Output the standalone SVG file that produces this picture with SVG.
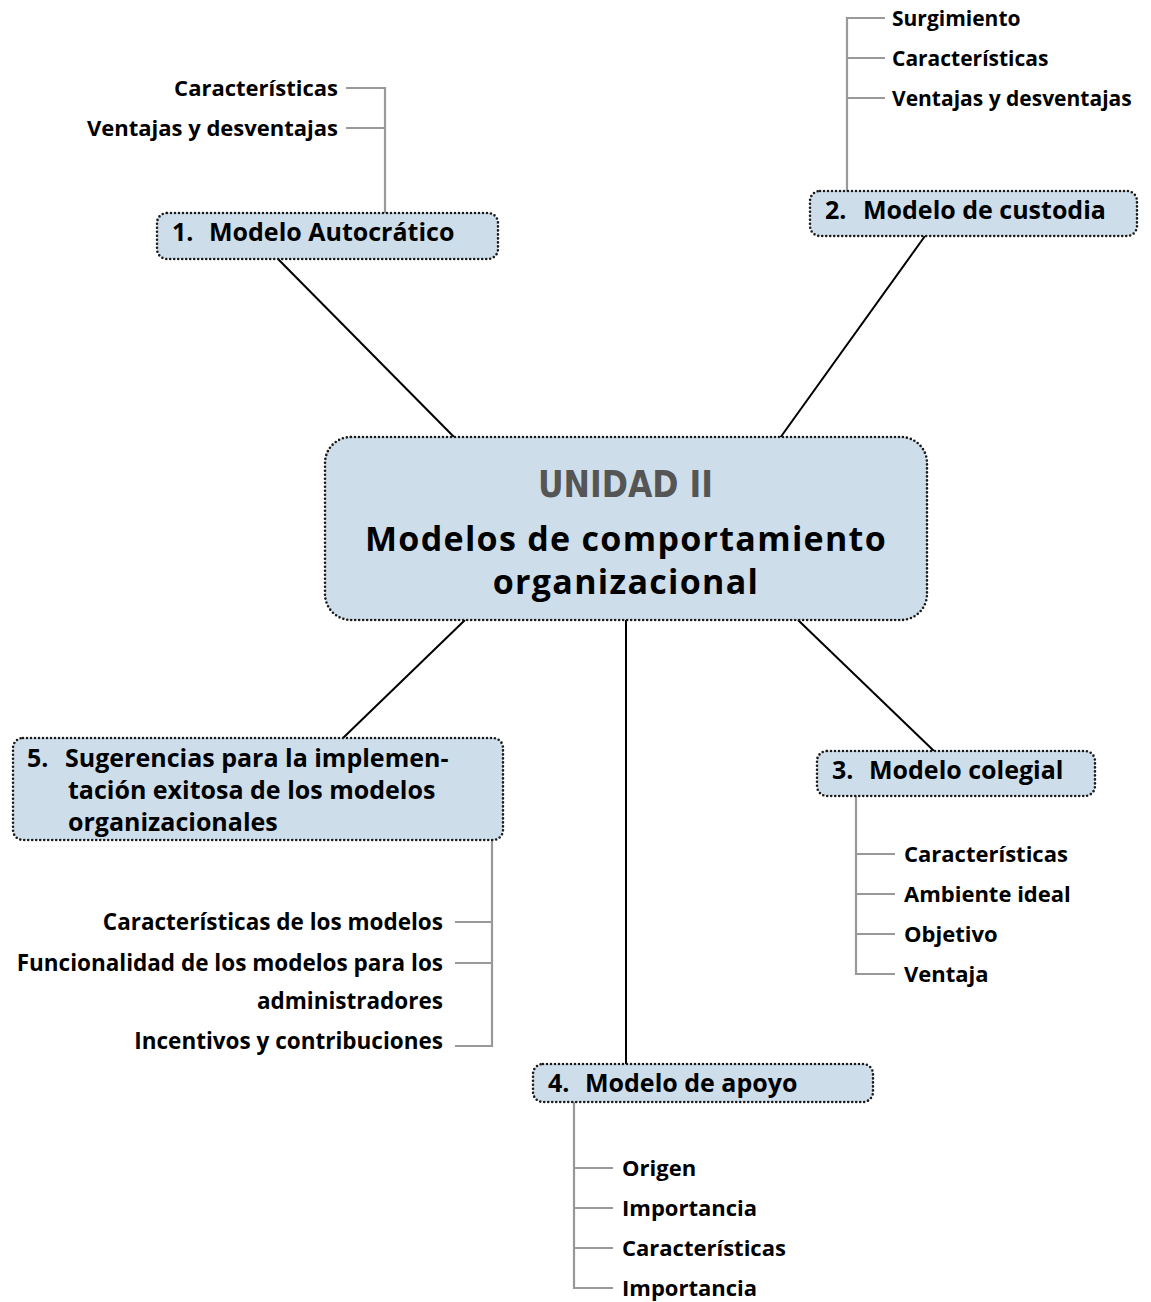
<svg xmlns="http://www.w3.org/2000/svg" width="1151" height="1302" viewBox="0 0 1151 1302">
<style>
.box{fill:#cddeea;stroke:#1a1a1a;stroke-width:2.6;stroke-dasharray:0 4;stroke-linecap:round}
.nt{font-family:"Open Sans",Lato,"Liberation Sans",sans-serif;font-weight:bold;font-size:25px;fill:#000}
.lt{font-family:"Open Sans",Lato,"Liberation Sans",sans-serif;font-weight:bold;font-size:22px;fill:#000}
.s21{font-size:21px}
.s225{font-size:22.5px}
.r{text-anchor:end}
.conn{stroke:#000;stroke-width:2;fill:none}
.tree{stroke:#999;stroke-width:2.2;fill:none}
</style>
<rect width="1151" height="1302" fill="#fff"/>
<g id="connectors">
<line class="conn" x1="278" y1="259" x2="455" y2="438"/>
<line class="conn" x1="925" y1="236" x2="780" y2="438"/>
<line class="conn" x1="465" y1="620" x2="343" y2="738"/>
<line class="conn" x1="626" y1="620" x2="626" y2="1064"/>
<line class="conn" x1="798" y1="620" x2="934" y2="751"/>
<path class="tree" d="M385 213V88H346M385 128H346"/>
<path class="tree" d="M847 191V18H885M847 58H885M847 98H885"/>
<path class="tree" d="M856 796V974H895M856 854H895M856 894H895M856 934H895"/>
<path class="tree" d="M574 1102V1288H613M574 1168H613M574 1208H613M574 1248H613"/>
<path class="tree" d="M492 840V1046H455M492 922H455M492 963H455"/>
</g>
<g id="center">
<rect class="box" x="325" y="437" width="602" height="183" rx="26"/>
<text x="538" y="497" textLength="175" lengthAdjust="spacingAndGlyphs" font-family="'DejaVu Sans Condensed','DejaVu Sans',sans-serif" font-weight="bold" font-size="38" fill="#555">UNIDAD II</text>
<text x="626" y="551" text-anchor="middle" font-family="'Open Sans',Lato,sans-serif" font-weight="bold" font-size="34" letter-spacing="1.3">Modelos de comportamiento</text>
<text x="626" y="594" text-anchor="middle" font-family="'Open Sans',Lato,sans-serif" font-weight="bold" font-size="34" letter-spacing="1.3">organizacional</text>
</g>
<g id="n1">
<rect class="box" x="157" y="213" width="341" height="46" rx="10"/>
<text class="nt" y="241"><tspan x="172">1.</tspan><tspan x="209">Modelo Autocrático</tspan></text>
</g>
<g id="n1-leaves">
<text class="lt r" x="338" y="96">Características</text>
<text class="lt r" x="338" y="136">Ventajas y desventajas</text>
</g>
<g id="n2">
<rect class="box" x="810" y="191" width="327" height="45" rx="10"/>
<text class="nt" y="219"><tspan x="825">2.</tspan><tspan x="863">Modelo de custodia</tspan></text>
</g>
<g id="n2-leaves">
<text class="lt s21" x="892" y="26">Surgimiento</text>
<text class="lt s21" x="892" y="66">Características</text>
<text class="lt s21" x="892" y="106">Ventajas y desventajas</text>
</g>
<g id="n3">
<rect class="box" x="817" y="751" width="278" height="45" rx="10"/>
<text class="nt" y="779"><tspan x="832">3.</tspan><tspan x="869">Modelo colegial</tspan></text>
</g>
<g id="n3-leaves">
<text class="lt" x="904" y="862">Características</text>
<text class="lt" x="904" y="902">Ambiente ideal</text>
<text class="lt" x="904" y="942">Objetivo</text>
<text class="lt" x="904" y="982">Ventaja</text>
</g>
<g id="n4">
<rect class="box" x="533" y="1064" width="340" height="38" rx="10"/>
<text class="nt" y="1092"><tspan x="548">4.</tspan><tspan x="585">Modelo de apoyo</tspan></text>
</g>
<g id="n4-leaves">
<text class="lt" x="622" y="1176">Origen</text>
<text class="lt" x="622" y="1216">Importancia</text>
<text class="lt" x="622" y="1256">Características</text>
<text class="lt" x="622" y="1296">Importancia</text>
</g>
<g id="n5">
<rect class="box" x="13" y="738" width="490" height="102" rx="10"/>
<text class="nt" y="767"><tspan x="27">5.</tspan><tspan x="65">Sugerencias para la implemen-</tspan></text>
<text class="nt" x="68" y="799">tación exitosa de los modelos</text>
<text class="nt" x="68" y="831">organizacionales</text>
</g>
<g id="n5-leaves">
<text class="lt s225 r" x="443" y="930">Características de los modelos</text>
<text class="lt s225 r" x="443" y="971">Funcionalidad de los modelos para los</text>
<text class="lt s225 r" x="443" y="1009">administradores</text>
<text class="lt s225 r" x="443" y="1049">Incentivos y contribuciones</text>
</g>
</svg>
